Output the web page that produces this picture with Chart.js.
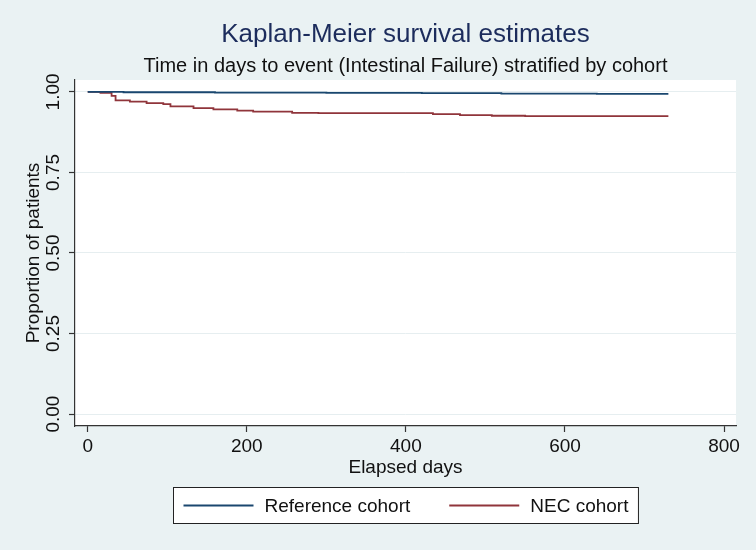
<html lang="en">
<head>
<meta charset="UTF-8">
<title>Kaplan-Meier survival estimates</title>
<script src="https://cdn.jsdelivr.net/npm/chart.js@4.4.0/dist/chart.umd.min.js"></script>
<style>
  html, body { margin: 0; padding: 0; background: #eaf2f3; }
  #wrap { width: 756px; height: 550px; }
</style>
</head>
<body>
<div id="wrap"><canvas id="kmChart" width="756" height="550"></canvas></div>
<script>
  // survival data (day, proportion)
  var refDays = [0, 45, 160, 300, 420, 520, 640, 730]
  var refSurv = [1.000, 0.999, 0.998, 0.997, 0.996, 0.995, 0.994, 0.994]

  var necDays = [0, 16, 30, 35, 53, 74, 95, 104, 133, 158, 188, 208, 257, 290, 434, 468, 508, 550, 730]
  var necSurv = [1.000, 0.997, 0.988, 0.974, 0.970, 0.965, 0.962, 0.955, 0.950, 0.946, 0.942, 0.939, 0.935, 0.934, 0.931, 0.928, 0.926, 0.925, 0.925]

  var seriesNames = ["Reference cohort", "NEC cohort"]
  var xTicks = [0, 200, 400, 600, 800]
  var yTicks = [0, 0.25, 0.5, 0.75, 1]

  var titleText = "Kaplan-Meier survival estimates"
  var subtitleText = "Time in days to event (Intestinal Failure) stratified by cohort"

  var FONT = '"Liberation Sans", Arial, sans-serif'
  var navy = "#1a476f"
  var maroon = "#90353b"

  function toPoints(xs, ys) {
    return xs.map((x, i) => ({ x: x, y: ys[i] }))
  }

  // background + white plot region
  var backgroundPlugin = {
    id: "bg",
    beforeDraw(chart) {
      var ctx = chart.ctx, a = chart.chartArea
      ctx.save()
      ctx.fillStyle = "#eaf2f3"
      ctx.fillRect(0, 0, chart.width, chart.height)
      ctx.fillStyle = "#ffffff"
      ctx.fillRect(a.left, a.top, a.right - a.left, a.bottom - a.top)
      ctx.restore()
    }
  }

  // titles centred on the plot region, rotated y tick labels, boxed legend
  var extrasPlugin = {
    id: "extras",
    afterDraw(chart) {
      var ctx = chart.ctx, a = chart.chartArea
      var ys = chart.scales.y
      var cx = (a.left + a.right) / 2
      ctx.save()
      ctx.textAlign = "center"
      ctx.textBaseline = "middle"

      ctx.fillStyle = "#1c2c5c"
      ctx.font = "26px " + FONT
      ctx.fillText(titleText, cx, 35)
      ctx.fillStyle = "#111"
      ctx.font = "20px " + FONT
      ctx.fillText(subtitleText, cx, 66)

      ctx.font = "19px " + FONT
      yTicks.forEach(v => {
        var py = ys.getPixelForValue(v)
        ctx.save()
        ctx.translate(54, py)
        ctx.rotate(-Math.PI / 2)
        ctx.fillText(v.toFixed(2), 0, 0)
        ctx.restore()
      })

      // legend
      var sample = 70, gap = 11, between = 39, pad = 10
      var items = chart.data.datasets.map(d => ({ label: d.label, color: d.borderColor, w: ctx.measureText(d.label).width }))
      var total = pad * 2 + items.reduce((s, it) => s + sample + gap + it.w, 0) + between * (items.length - 1)
      var left = Math.round(cx - total / 2) + 0.5
      var top = 487.5, h = 36
      ctx.fillStyle = "#ffffff"
      ctx.fillRect(left, top, total, h)
      ctx.strokeStyle = "#222"
      ctx.lineWidth = 1
      ctx.strokeRect(left, top, total, h)
      var x = left + pad
      var my = top + h / 2
      ctx.textAlign = "left"
      items.forEach(it => {
        ctx.strokeStyle = it.color
        ctx.lineWidth = 1.8
        ctx.beginPath()
        ctx.moveTo(x, my)
        ctx.lineTo(x + sample, my)
        ctx.stroke()
        x += sample + gap
        ctx.fillStyle = "#111"
        ctx.fillText(it.label, x, my + 1)
        x += it.w + between
      })
      ctx.restore()
    }
  }

  new Chart("kmChart", {
    type: "line",
    data: {
      datasets: [{
        label: seriesNames[0],
        data: toPoints(refDays, refSurv),
        borderColor: navy,
        borderWidth: 1.8,
        pointRadius: 0,
        stepped: "before",
        fill: false
      }, {
        label: seriesNames[1],
        data: toPoints(necDays, necSurv),
        borderColor: maroon,
        borderWidth: 1.8,
        pointRadius: 0,
        stepped: "before",
        fill: false
      }]
    },
    options: {
      responsive: false,
      animation: false,
      events: [],
      layout: { padding: { top: 80, left: 0, right: 20, bottom: 64 } },
      plugins: {
        legend: { display: false },
        tooltip: { enabled: false },
        title: { display: false }
      },
      scales: {
        x: {
          type: "linear",
          min: -16,
          max: 815,
          afterBuildTicks: s => { s.ticks = xTicks.map(v => ({ value: v })) },
          afterFit: s => { s.height = 60 },
          grid: { drawOnChartArea: false, drawTicks: true, tickLength: 6, tickColor: "#333", tickWidth: 1.2 },
          border: { display: true, color: "#333", width: 1.2 },
          ticks: { color: "#111", font: { family: FONT, size: 19 }, padding: 3, maxRotation: 0 },
          title: { display: true, text: "Elapsed days", color: "#111", font: { family: FONT, size: 19 }, padding: { top: 0, bottom: 7 } }
        },
        y: {
          type: "linear",
          min: -0.037,
          max: 1.037,
          afterBuildTicks: s => { s.ticks = yTicks.map(v => ({ value: v })) },
          afterFit: s => { s.width = 75 },
          grid: { drawOnChartArea: true, color: "#e6eef0", lineWidth: 1, drawTicks: true, tickLength: 6, tickColor: "#333", tickWidth: 1.2 },
          border: { display: true, color: "#333", width: 1.2 },
          ticks: { display: false },
          title: { display: true, text: "Proportion of patients", color: "#111", font: { family: FONT, size: 19 }, padding: { top: 22, bottom: 0 } }
        }
      }
    },
    plugins: [backgroundPlugin, extrasPlugin]
  });
</script>
</body>
</html>
